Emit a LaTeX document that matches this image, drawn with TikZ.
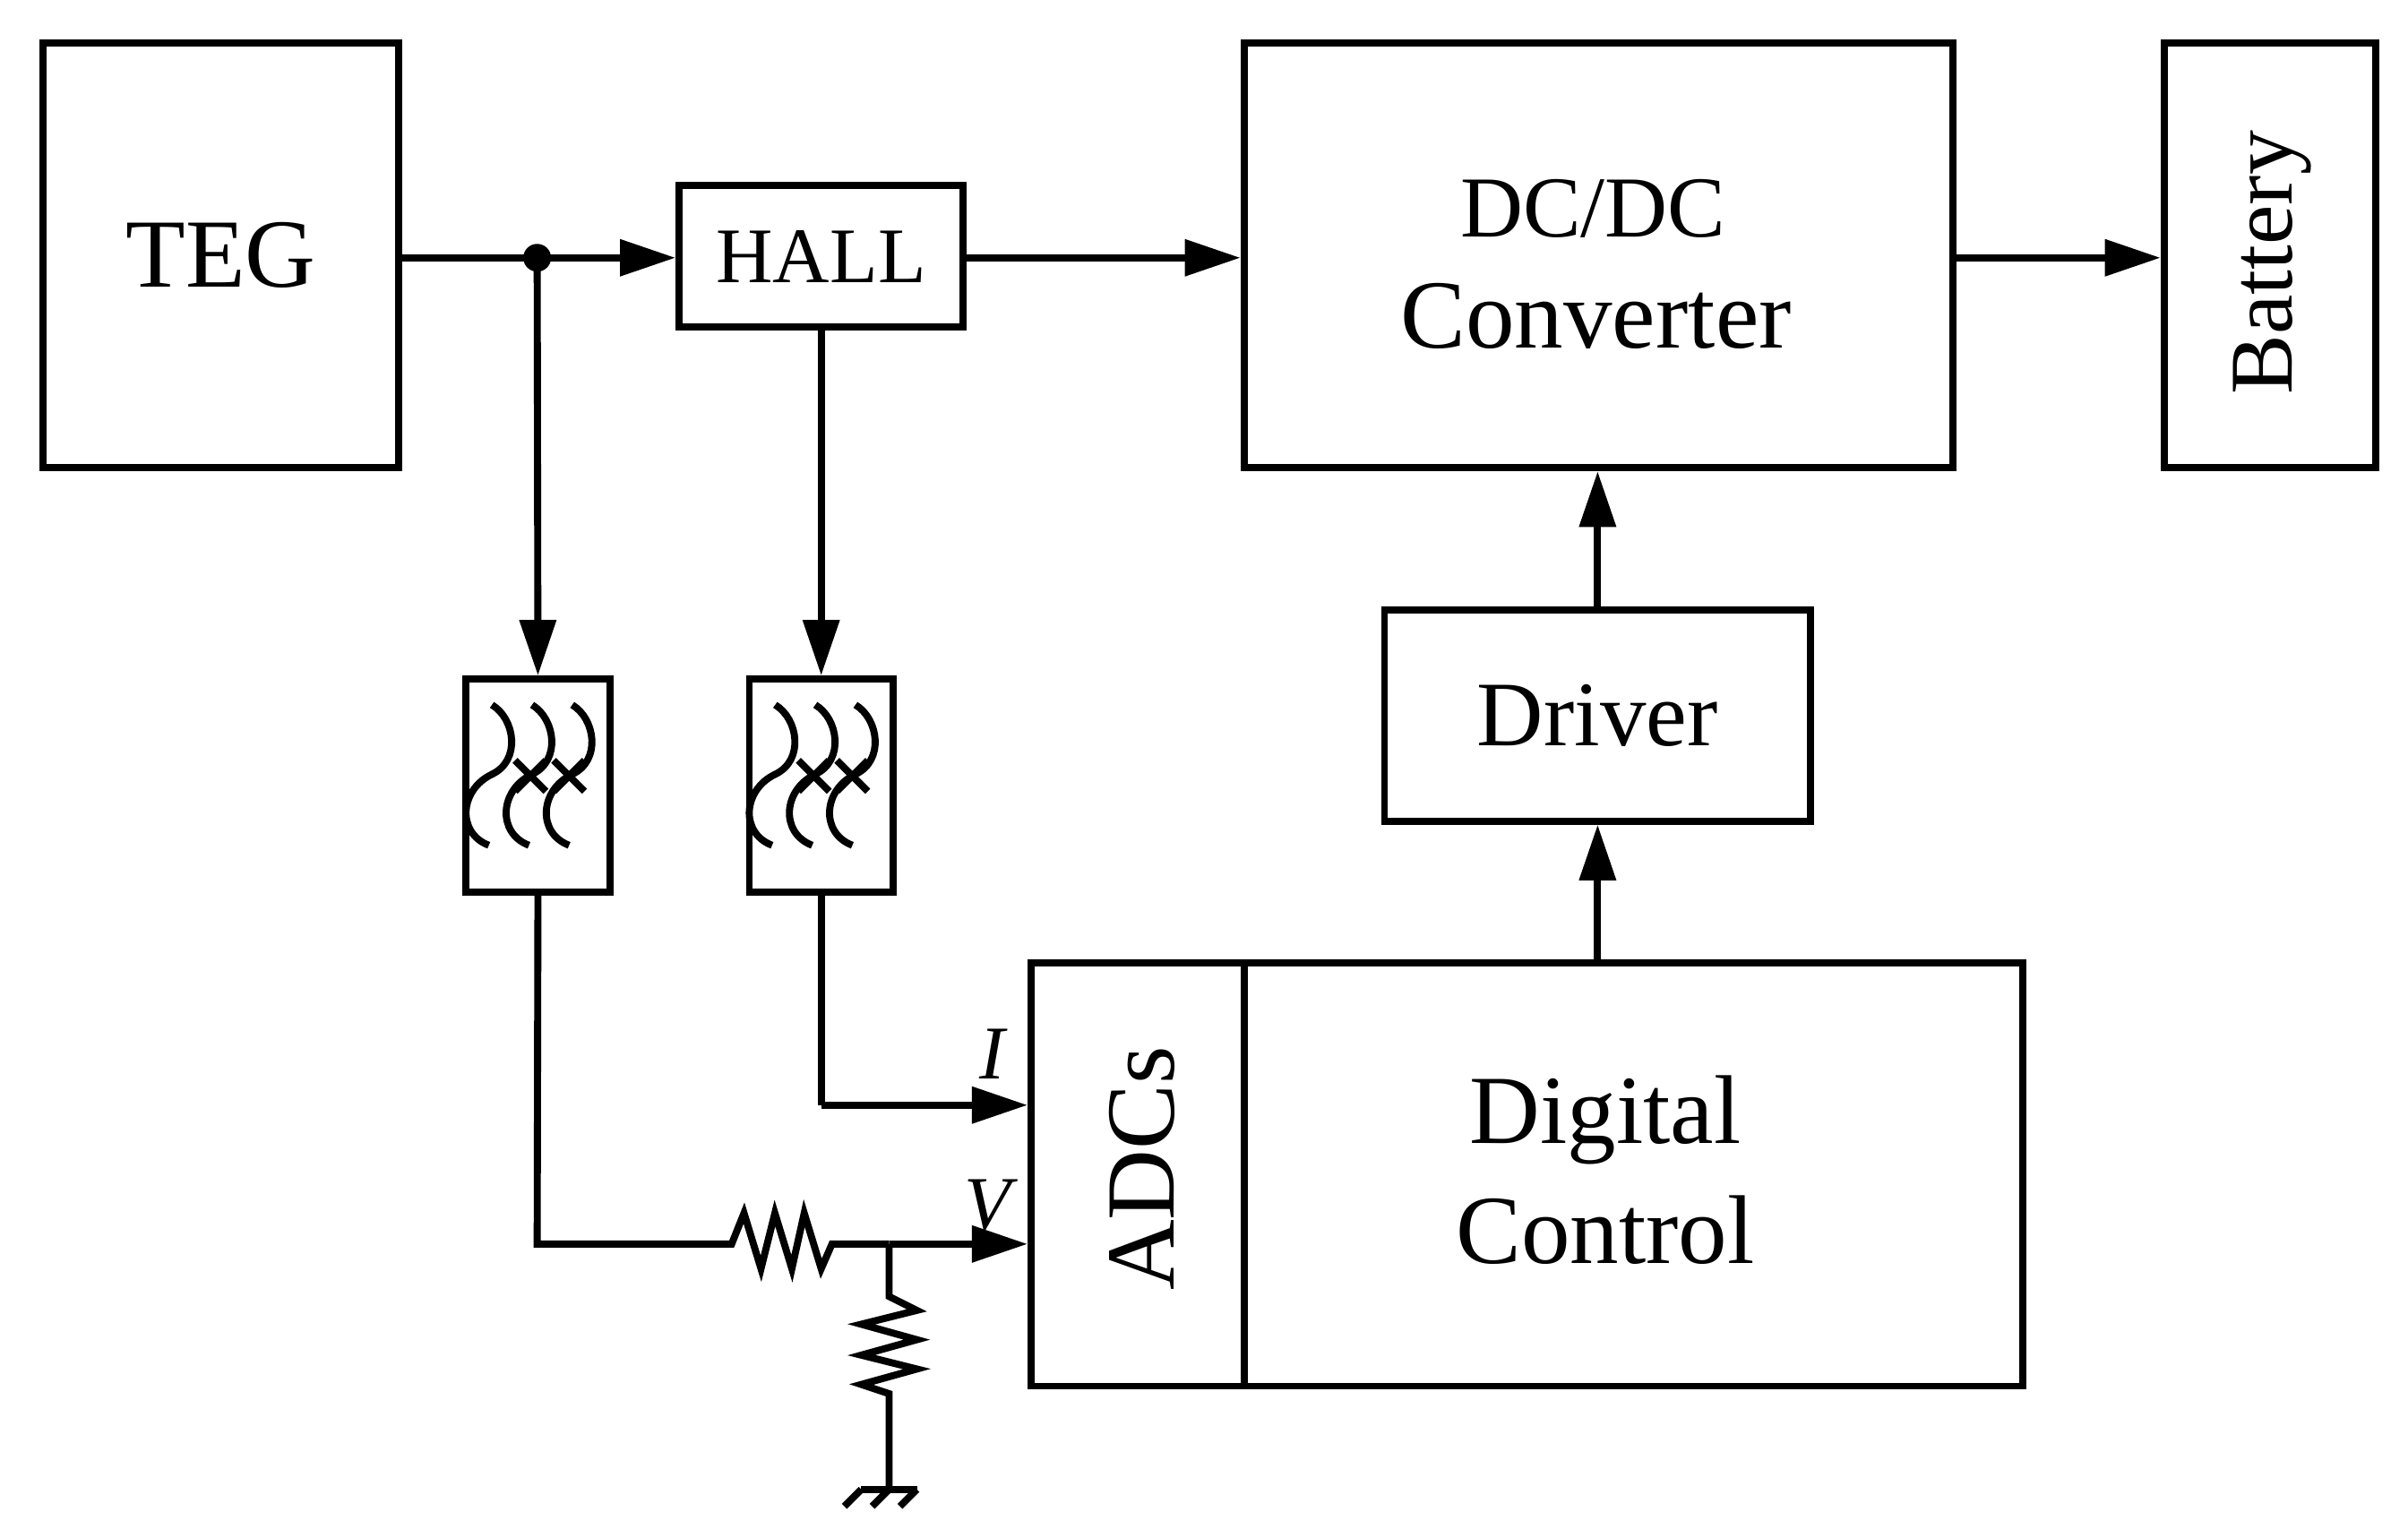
\documentclass[tikz,border=0pt]{standalone}
\usepackage{fontspec}
\setmainfont{Liberation Serif}
\usetikzlibrary{arrows.meta}
\tikzset{
  blk/.style={draw, line width=1.3pt, inner sep=0pt, align=center},
  sig/.style={line width=1.3pt, -{Triangle[length=0.36cm,width=0.23cm]}},
  wire/.style={line width=1.3pt},
}
\begin{document}
\begin{tikzpicture}[x=0.01cm,y=-0.01cm,line join=miter]
\useasboundingbox (0,0) rectangle (1560,990.6);
% blocks
\node [blk, minimum width=2.3cm, minimum height=2.75cm, font=\fontsize{18}{20}\selectfont] (teg) at (143,165.5) {TEG};
\node [blk, minimum width=1.84cm, minimum height=0.92cm, font=\fontsize{14.5}{16}\selectfont] (hall) at (532,166) {HALL};
\node [blk, minimum width=4.59cm, minimum height=2.75cm] (dcdc) at (1035.5,165.5) {};
\node [font=\fontsize{16}{18}\selectfont] (dcl) at (1032,135) {DC/DC};
\node [font=\fontsize{18}{20}\selectfont] (cvl) at (1034,205) {Converter};
\node [blk, minimum width=1.37cm, minimum height=2.75cm] (bat) at (1470.5,165.5) {};
\node [rotate=90, font=\fontsize{16.5}{18}\selectfont] (batl) at (1472,170) {Battery};
\node [blk, minimum width=2.76cm, minimum height=1.37cm, font=\fontsize{17}{19}\selectfont] (drv) at (1035,463.5) {Driver};
\node [blk, minimum width=6.42cm, minimum height=2.74cm] (dig) at (989,761) {};
\node [blk, minimum width=1.38cm, minimum height=2.74cm] (adc) at (737,761) {};
\node [rotate=90, font=\fontsize{18}{20}\selectfont] (adcl) at (740,757) {ADCs};
\node [font=\fontsize{18}{20}\selectfont, align=center] (digl) at (1040,758) {Digital\\[2pt]Control};
\node [blk, minimum width=0.93cm, minimum height=1.38cm] (fa) at (348.5,509) {};
\node [blk, minimum width=0.93cm, minimum height=1.38cm] (fb) at (532,509) {};
% filter symbols
\foreach \f in {fa,fb} {
  \begin{scope}[shift={(\f.north west)}, line width=1.3pt]
    \foreach \k in {0,26,52}
      \draw [xshift=\k*0.01cm] (19,19) .. controls (34,28) and (38,55) .. (19,64)
        .. controls (-2,74) and (-4,102) .. (17,110);
    \foreach \c in {44,69}
      \draw [xshift=\c*0.01cm] (-10,55) -- (10,75) (-10,75) -- (10,55);
  \end{scope}
}
% connections
\coordinate (jn) at (348,167);
\fill (jn) circle (9);
\draw [wire] (teg.east |- jn) -- (jn);
\draw [sig] (jn) -- (hall.west |- jn);
\draw [sig] (hall.east |- jn) -- (dcdc.west |- jn);
\draw [sig] (dcdc.east |- jn) -- (bat.west |- jn);
\draw [sig] (jn) -- (fa.north);
\draw [sig] (hall.south) -- (fb.north);
\draw [sig] (drv.north) -- (dcdc.south -| drv.north);
\draw [sig] (dig.north -| drv.south) -- (drv.south);
\coordinate (ci) at (532,716);
\draw [wire] (fb.south) -- (ci);
\draw [sig] (ci) -- (adc.west |- ci);
\node [font=\itshape\fontsize{14}{16}\selectfont] (il) at (643,683) {I};
% voltage divider
\coordinate (cv) at (348,806);
\coordinate (ra) at (474,806);
\coordinate (rb) at (539,806);
\coordinate (jv) at (576,806);
\draw [wire] (fa.south) -- (cv) -- (ra) -- (482,786) -- (493,822) -- (502,786)
  -- (513,822) -- (521,786) -- (532,822) -- (rb) -- (jv);
\draw [sig] (jv) -- (adc.west |- jv);
\node [font=\itshape\fontsize{14}{16}\selectfont] (vl) at (640,781) {V};
\coordinate (gnd) at (576,965);
\draw [wire] (jv) -- (576,840) -- (594,849) -- (558,858) -- (594,868) -- (558,878)
  -- (594,887) -- (558,897) -- (576,903) -- (gnd);
\draw [wire] (558,965) -- (594,965);
\foreach \g in {558,576,594}
  \draw [wire] (\g,965) -- ++(-11,11);
\end{tikzpicture}
\end{document}
